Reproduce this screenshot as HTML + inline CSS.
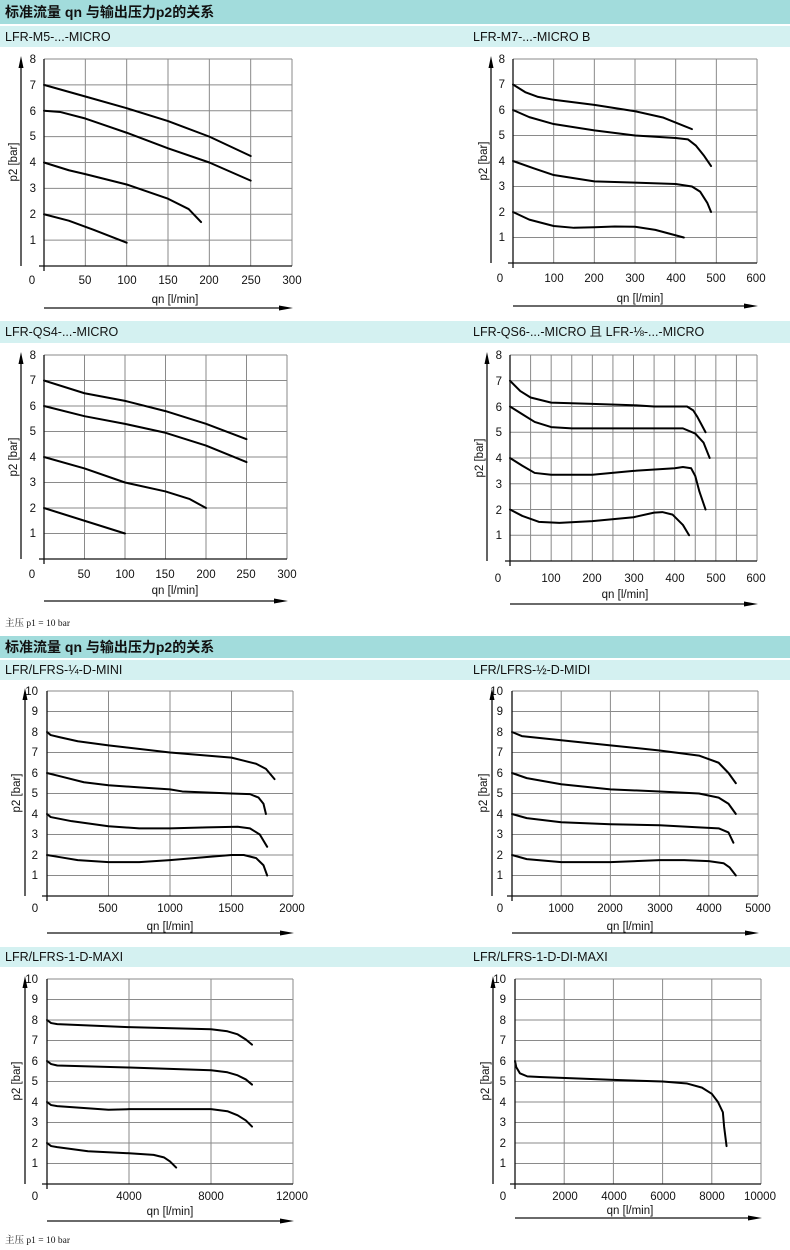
<!DOCTYPE html>
<html><head><meta charset="utf-8"><style>
body{margin:0;background:#fff}
svg{display:block}
text{font-family:"Liberation Sans","Noto Sans CJK SC",sans-serif;font-size:11.5px;fill:#111}
.g{fill:none;stroke:#8a8a8a;stroke-width:1}
.ax{fill:none;stroke:#111;stroke-width:1.3}
.c{fill:none;stroke:#000;stroke-width:2;stroke-linejoin:round;stroke-linecap:round}
.h{font-weight:bold;font-size:14px;font-family:"Liberation Sans","Noto Sans CJK SC",sans-serif}
.s{font-size:12.5px}
.f{font-size:9.5px;font-family:"Liberation Serif","Noto Serif CJK SC",serif}
</style></head><body>
<svg width="790" height="1250" viewBox="0 0 790 1250" xmlns="http://www.w3.org/2000/svg">
<!-- headers -->
<rect x="0" y="0" width="790" height="24" fill="#a2dcdc"/>
<text class="h" x="5" y="17">标准流量 qn 与输出压力p2的关系</text>
<rect x="0" y="26" width="790" height="21" fill="#d4f1f1"/>
<text class="s" x="5" y="41">LFR-M5-...-MICRO</text>
<text class="s" x="473" y="41">LFR-M7-...-MICRO B</text>
<rect x="0" y="321" width="790" height="22" fill="#d4f1f1"/>
<text class="s" x="5" y="336">LFR-QS4-...-MICRO</text>
<text class="s" x="473" y="336">LFR-QS6-...-MICRO 且 LFR-⅛-...-MICRO</text>
<text class="f" x="5" y="626">主压 p1 = 10 bar</text>
<rect x="0" y="636" width="790" height="22" fill="#a2dcdc"/>
<text class="h" x="5" y="652">标准流量 qn 与输出压力p2的关系</text>
<rect x="0" y="660" width="790" height="20" fill="#d4f1f1"/>
<text class="s" x="5" y="674">LFR/LFRS-¼-D-MINI</text>
<text class="s" x="473" y="674">LFR/LFRS-½-D-MIDI</text>
<rect x="0" y="947" width="790" height="20" fill="#d4f1f1"/>
<text class="s" x="5" y="961">LFR/LFRS-1-D-MAXI</text>
<text class="s" x="473" y="961">LFR/LFRS-1-D-DI-MAXI</text>
<text class="f" x="5" y="1243">主压 p1 = 10 bar</text>

<!-- ===== C1 ===== -->
<g transform="translate(44,266) scale(0.8267,-25.875)">
<path class="g" vector-effect="non-scaling-stroke" d="M0,1H300M0,2H300M0,3H300M0,4H300M0,5H300M0,6H300M0,7H300M0,8H300M50,0V8M100,0V8M150,0V8M200,0V8M250,0V8M300,0V8"/>
<polyline class="c" vector-effect="non-scaling-stroke" points="0,7 50,6.55 100,6.1 150,5.6 200,5.0 250,4.25"/>
<polyline class="c" vector-effect="non-scaling-stroke" points="0,6 20,5.95 50,5.7 100,5.15 150,4.55 200,4.0 250,3.3"/>
<polyline class="c" vector-effect="non-scaling-stroke" points="0,4 30,3.7 50,3.55 100,3.15 150,2.6 175,2.2 190,1.7"/>
<polyline class="c" vector-effect="non-scaling-stroke" points="0,2 30,1.75 60,1.4 100,0.9"/>
</g>
<path class="ax" d="M39,266H292M44,59V271"/>
<g text-anchor="end"><text x="36" y="244">1</text><text x="36" y="218">2</text><text x="36" y="192">3</text><text x="36" y="166">4</text><text x="36" y="140">5</text><text x="36" y="115">6</text><text x="36" y="89">7</text><text x="36" y="63">8</text></g>
<g text-anchor="middle"><text x="32" y="284">0</text><text x="85" y="284">50</text><text x="127" y="284">100</text><text x="168" y="284">150</text><text x="209" y="284">200</text><text x="251" y="284">250</text><text x="292" y="284">300</text>
<text x="175" y="303">qn [l/min]</text>
<text transform="translate(13,162) rotate(-90)" dy="4">p2 [bar]</text></g>
<path class="ax" d="M21,266V66M44,308H280"/>
<polygon points="21,56 18.5,68 23.5,68"/><polygon points="293,308 279,305.5 279,310.5"/>

<!-- ===== C2 ===== -->
<g transform="translate(513,263) scale(0.4067,-25.5)">
<path class="g" vector-effect="non-scaling-stroke" d="M0,1H600M0,2H600M0,3H600M0,4H600M0,5H600M0,6H600M0,7H600M0,8H600M100,0V8M200,0V8M300,0V8M400,0V8M500,0V8M600,0V8"/>
<polyline class="c" vector-effect="non-scaling-stroke" points="0,7 30,6.7 60,6.52 100,6.4 200,6.2 300,5.95 370,5.7 440,5.25"/>
<polyline class="c" vector-effect="non-scaling-stroke" points="0,6 40,5.72 100,5.45 200,5.2 300,5.0 400,4.9 430,4.85 450,4.6 470,4.2 487,3.8"/>
<polyline class="c" vector-effect="non-scaling-stroke" points="0,4 50,3.72 100,3.45 200,3.2 300,3.15 400,3.1 440,3.0 460,2.8 478,2.35 487,2.0"/>
<polyline class="c" vector-effect="non-scaling-stroke" points="0,2 40,1.7 100,1.45 150,1.38 200,1.4 250,1.43 300,1.42 350,1.3 420,1.0"/>
</g>
<path class="ax" d="M508,263H757M513,59V268"/>
<g text-anchor="end"><text x="505" y="241">1</text><text x="505" y="216">2</text><text x="505" y="190">3</text><text x="505" y="165">4</text><text x="505" y="139">5</text><text x="505" y="114">6</text><text x="505" y="88">7</text><text x="505" y="63">8</text></g>
<g text-anchor="middle"><text x="500" y="282">0</text><text x="554" y="282">100</text><text x="594" y="282">200</text><text x="635" y="282">300</text><text x="676" y="282">400</text><text x="716" y="282">500</text><text x="756" y="282">600</text>
<text x="640" y="302">qn [l/min]</text>
<text transform="translate(483,161) rotate(-90)" dy="4">p2 [bar]</text></g>
<path class="ax" d="M491,263V66M513,306H745"/>
<polygon points="491,56 488.5,68 493.5,68"/><polygon points="758,306 744,303.5 744,308.5"/>

<!-- ===== C3 ===== -->
<g transform="translate(44,559) scale(0.81,-25.5)">
<path class="g" vector-effect="non-scaling-stroke" d="M0,1H300M0,2H300M0,3H300M0,4H300M0,5H300M0,6H300M0,7H300M0,8H300M50,0V8M100,0V8M150,0V8M200,0V8M250,0V8M300,0V8"/>
<polyline class="c" vector-effect="non-scaling-stroke" points="0,7 50,6.5 100,6.2 150,5.8 200,5.3 250,4.7"/>
<polyline class="c" vector-effect="non-scaling-stroke" points="0,6 50,5.6 100,5.3 150,4.95 200,4.45 250,3.8"/>
<polyline class="c" vector-effect="non-scaling-stroke" points="0,4 50,3.55 100,3.0 150,2.65 180,2.35 200,2.0"/>
<polyline class="c" vector-effect="non-scaling-stroke" points="0,2 100,1.0"/>
</g>
<path class="ax" d="M39,559H287M44,355V564"/>
<g text-anchor="end"><text x="36" y="537">1</text><text x="36" y="512">2</text><text x="36" y="486">3</text><text x="36" y="461">4</text><text x="36" y="435">5</text><text x="36" y="410">6</text><text x="36" y="384">7</text><text x="36" y="359">8</text></g>
<g text-anchor="middle"><text x="32" y="578">0</text><text x="84" y="578">50</text><text x="125" y="578">100</text><text x="165" y="578">150</text><text x="206" y="578">200</text><text x="246" y="578">250</text><text x="287" y="578">300</text>
<text x="175" y="594">qn [l/min]</text>
<text transform="translate(13,457) rotate(-90)" dy="4">p2 [bar]</text></g>
<path class="ax" d="M21,559V362M44,601H275"/>
<polygon points="21,352 18.5,364 23.5,364"/><polygon points="288,601 274,598.5 274,603.5"/>

<!-- ===== C4 ===== -->
<g transform="translate(510,561) scale(0.4117,-25.75)">
<path class="g" vector-effect="non-scaling-stroke" d="M0,1H600M0,2H600M0,3H600M0,4H600M0,5H600M0,6H600M0,7H600M0,8H600M50,0V8M100,0V8M150,0V8M200,0V8M250,0V8M300,0V8M350,0V8M400,0V8M450,0V8M500,0V8M550,0V8M600,0V8"/>
<polyline class="c" vector-effect="non-scaling-stroke" points="0,7 25,6.6 50,6.35 100,6.15 200,6.1 300,6.05 350,6.0 430,6.0 445,5.85 455,5.6 465,5.3 475,5.0"/>
<polyline class="c" vector-effect="non-scaling-stroke" points="0,6 30,5.7 60,5.4 100,5.2 150,5.15 300,5.15 420,5.15 450,4.95 470,4.6 485,4.0"/>
<polyline class="c" vector-effect="non-scaling-stroke" points="0,4 30,3.7 60,3.42 100,3.35 200,3.35 300,3.5 400,3.6 420,3.65 440,3.6 450,3.3 460,2.7 475,2.0"/>
<polyline class="c" vector-effect="non-scaling-stroke" points="0,2 30,1.75 70,1.52 120,1.48 200,1.55 300,1.7 350,1.88 370,1.9 395,1.8 420,1.4 435,1.0"/>
</g>
<path class="ax" d="M505,561H757M510,355V566"/>
<g text-anchor="end"><text x="502" y="539">1</text><text x="502" y="514">2</text><text x="502" y="488">3</text><text x="502" y="462">4</text><text x="502" y="436">5</text><text x="502" y="411">6</text><text x="502" y="385">7</text><text x="502" y="359">8</text></g>
<g text-anchor="middle"><text x="498" y="582">0</text><text x="551" y="582">100</text><text x="592" y="582">200</text><text x="634" y="582">300</text><text x="675" y="582">400</text><text x="716" y="582">500</text><text x="756" y="582">600</text>
<text x="625" y="598">qn [l/min]</text>
<text transform="translate(479,458) rotate(-90)" dy="4">p2 [bar]</text></g>
<path class="ax" d="M487,561V362M510,604H745"/>
<polygon points="487,352 484.5,364 489.5,364"/><polygon points="758,604 744,601.5 744,606.5"/>

<!-- ===== C5 ===== -->
<g transform="translate(47,896) scale(0.123,-20.5)">
<path class="g" vector-effect="non-scaling-stroke" d="M0,1H2000M0,2H2000M0,3H2000M0,4H2000M0,5H2000M0,6H2000M0,7H2000M0,8H2000M0,9H2000M0,10H2000M500,0V10M1000,0V10M1500,0V10M2000,0V10"/>
<polyline class="c" vector-effect="non-scaling-stroke" points="0,8 30,7.85 100,7.75 250,7.55 500,7.35 1000,7.0 1500,6.75 1600,6.6 1700,6.45 1780,6.2 1850,5.7"/>
<polyline class="c" vector-effect="non-scaling-stroke" points="0,6 100,5.85 300,5.55 500,5.4 750,5.3 1000,5.2 1100,5.1 1500,5.0 1650,4.97 1720,4.8 1760,4.5 1780,4.0"/>
<polyline class="c" vector-effect="non-scaling-stroke" points="0,4 30,3.85 200,3.65 500,3.4 750,3.3 1000,3.3 1300,3.35 1550,3.38 1650,3.3 1730,3.0 1790,2.4"/>
<polyline class="c" vector-effect="non-scaling-stroke" points="0,2 100,1.9 250,1.75 500,1.65 750,1.65 1000,1.75 1300,1.9 1500,2.0 1600,2.0 1700,1.85 1760,1.5 1790,1.0"/>
</g>
<path class="ax" d="M42,896H293M47,691V901"/>
<g text-anchor="end"><text x="38" y="879">1</text><text x="38" y="859">2</text><text x="38" y="838">3</text><text x="38" y="818">4</text><text x="38" y="797">5</text><text x="38" y="777">6</text><text x="38" y="756">7</text><text x="38" y="736">8</text><text x="38" y="715">9</text><text x="38" y="695">10</text></g>
<g text-anchor="middle"><text x="35" y="912">0</text><text x="108" y="912">500</text><text x="170" y="912">1000</text><text x="231" y="912">1500</text><text x="292" y="912">2000</text>
<text x="170" y="930">qn [l/min]</text>
<text transform="translate(16,793) rotate(-90)" dy="4">p2 [bar]</text></g>
<path class="ax" d="M25,896V698M47,933H281"/>
<polygon points="25,688 22.5,700 27.5,700"/><polygon points="294,933 280,930.5 280,935.5"/>

<!-- ===== C6 ===== -->
<g transform="translate(512,896) scale(0.0492,-20.5)">
<path class="g" vector-effect="non-scaling-stroke" d="M0,1H5000M0,2H5000M0,3H5000M0,4H5000M0,5H5000M0,6H5000M0,7H5000M0,8H5000M0,9H5000M0,10H5000M1000,0V10M2000,0V10M3000,0V10M4000,0V10M5000,0V10"/>
<polyline class="c" vector-effect="non-scaling-stroke" points="0,8 200,7.8 1000,7.6 2000,7.35 3000,7.1 3800,6.85 4200,6.5 4400,6.0 4550,5.5"/>
<polyline class="c" vector-effect="non-scaling-stroke" points="0,6 300,5.75 1000,5.45 2000,5.2 3000,5.1 3800,5.0 4200,4.8 4400,4.5 4550,4.0"/>
<polyline class="c" vector-effect="non-scaling-stroke" points="0,4 300,3.8 1000,3.6 2000,3.5 3000,3.45 3800,3.35 4200,3.3 4400,3.1 4500,2.6"/>
<polyline class="c" vector-effect="non-scaling-stroke" points="0,2 300,1.8 1000,1.65 2000,1.65 3000,1.75 3500,1.75 4000,1.7 4300,1.6 4420,1.4 4550,1.0"/>
</g>
<path class="ax" d="M507,896H758M512,691V901"/>
<g text-anchor="end"><text x="503" y="879">1</text><text x="503" y="859">2</text><text x="503" y="838">3</text><text x="503" y="818">4</text><text x="503" y="797">5</text><text x="503" y="777">6</text><text x="503" y="756">7</text><text x="503" y="736">8</text><text x="503" y="715">9</text><text x="503" y="695">10</text></g>
<g text-anchor="middle"><text x="500" y="912">0</text><text x="561" y="912">1000</text><text x="610" y="912">2000</text><text x="660" y="912">3000</text><text x="709" y="912">4000</text><text x="758" y="912">5000</text>
<text x="630" y="930">qn [l/min]</text>
<text transform="translate(483,793) rotate(-90)" dy="4">p2 [bar]</text></g>
<path class="ax" d="M492,896V698M512,933H746"/>
<polygon points="492,688 489.5,700 494.5,700"/><polygon points="759,933 745,930.5 745,935.5"/>

<!-- ===== C7 ===== -->
<g transform="translate(47,1184) scale(0.0205,-20.5)">
<path class="g" vector-effect="non-scaling-stroke" d="M0,1H12000M0,2H12000M0,3H12000M0,4H12000M0,5H12000M0,6H12000M0,7H12000M0,8H12000M0,9H12000M0,10H12000M4000,0V10M8000,0V10M12000,0V10"/>
<polyline class="c" vector-effect="non-scaling-stroke" points="0,8 200,7.85 500,7.8 4000,7.65 8000,7.55 8800,7.45 9300,7.3 9700,7.05 10000,6.8"/>
<polyline class="c" vector-effect="non-scaling-stroke" points="0,6 200,5.85 500,5.78 4000,5.68 8000,5.55 8800,5.45 9300,5.3 9700,5.1 10000,4.85"/>
<polyline class="c" vector-effect="non-scaling-stroke" points="0,4 200,3.85 500,3.8 3000,3.62 4000,3.65 8000,3.65 8800,3.55 9300,3.35 9700,3.1 10000,2.8"/>
<polyline class="c" vector-effect="non-scaling-stroke" points="0,2 200,1.85 500,1.8 2000,1.6 4000,1.5 5200,1.42 5700,1.3 6000,1.1 6300,0.8"/>
</g>
<path class="ax" d="M42,1184H293M47,979V1189"/>
<g text-anchor="end"><text x="38" y="1167">1</text><text x="38" y="1147">2</text><text x="38" y="1126">3</text><text x="38" y="1106">4</text><text x="38" y="1085">5</text><text x="38" y="1065">6</text><text x="38" y="1044">7</text><text x="38" y="1024">8</text><text x="38" y="1003">9</text><text x="38" y="983">10</text></g>
<g text-anchor="middle"><text x="35" y="1200">0</text><text x="129" y="1200">4000</text><text x="211" y="1200">8000</text><text x="292" y="1200">12000</text>
<text x="170" y="1215">qn [l/min]</text>
<text transform="translate(16,1081) rotate(-90)" dy="4">p2 [bar]</text></g>
<path class="ax" d="M25,1184V986M47,1221H281"/>
<polygon points="25,976 22.5,988 27.5,988"/><polygon points="294,1221 280,1218.5 280,1223.5"/>

<!-- ===== C8 ===== -->
<g transform="translate(515,1184) scale(0.0246,-20.5)">
<path class="g" vector-effect="non-scaling-stroke" d="M0,1H10000M0,2H10000M0,3H10000M0,4H10000M0,5H10000M0,6H10000M0,7H10000M0,8H10000M0,9H10000M0,10H10000M2000,0V10M4000,0V10M6000,0V10M8000,0V10M10000,0V10"/>
<polyline class="c" vector-effect="non-scaling-stroke" points="0,6 50,5.7 200,5.4 500,5.25 1000,5.22 4000,5.08 6000,5.0 7000,4.9 7600,4.7 8000,4.4 8250,4.0 8450,3.5 8500,2.8 8600,1.85"/>
</g>
<path class="ax" d="M510,1184H761M515,979V1189"/>
<g text-anchor="end"><text x="506" y="1167">1</text><text x="506" y="1147">2</text><text x="506" y="1126">3</text><text x="506" y="1106">4</text><text x="506" y="1085">5</text><text x="506" y="1065">6</text><text x="506" y="1044">7</text><text x="506" y="1024">8</text><text x="506" y="1003">9</text><text x="506" y="983">10</text></g>
<g text-anchor="middle"><text x="503" y="1200">0</text><text x="565" y="1200">2000</text><text x="614" y="1200">4000</text><text x="663" y="1200">6000</text><text x="712" y="1200">8000</text><text x="760" y="1200">10000</text>
<text x="630" y="1214">qn [l/min]</text>
<text transform="translate(485,1081) rotate(-90)" dy="4">p2 [bar]</text></g>
<path class="ax" d="M493,1184V986M515,1218H749"/>
<polygon points="493,976 490.5,988 495.5,988"/><polygon points="762,1218 748,1215.5 748,1220.5"/>
</svg>
</body></html>
